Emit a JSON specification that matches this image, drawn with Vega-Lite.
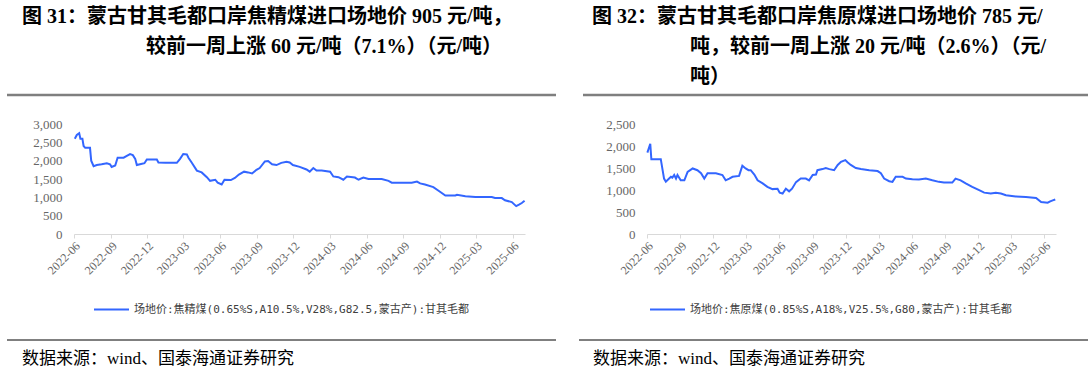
{
  "$schema": "https://vega.github.io/schema/vega-lite/v6.json",
  "padding": {"left": 5, "top": 7, "right": 0, "bottom": 0},
  "background": "white",
  "spacing": 21,
  "resolve": {"scale": {"x": "independent", "y": "independent", "color": "independent"}, "legend": {"color": "independent"}},
  "config": {
    "view": {"stroke": null},
    "axis": {"grid": false, "title": null},
    "axisX": {"labelFont": "Liberation Serif", "labelFontSize": 12, "labelColor": "#666666", "labelAngle": -45, "labelFlush": false, "labelOverlap": false, "labelBound": false, "domainColor": "#d9d9d9", "tickColor": "#d9d9d9", "tickSize": 4, "labelPadding": 2, "format": "%Y-%m"},
    "axisY": {"labelFont": "Liberation Serif", "labelFontSize": 13, "labelColor": "#666666", "domain": false, "ticks": false, "labelPadding": 12, "offset": -67},
    "title": {"font": "Liberation Serif, Noto Sans CJK SC", "fontSize": 20, "fontWeight": "bold", "color": "#000000", "anchor": "start", "align": "left", "lineHeight": 30, "frame": "group", "offset": 4},
    "legend": {"orient": "bottom", "title": null, "symbolType": "stroke", "symbolSize": 1225, "symbolStrokeWidth": 2, "labelFont": "DejaVu Sans Mono, Noto Sans CJK SC", "labelFontSize": 11, "labelColor": "#404040", "labelLimit": 0, "offset": 14, "labelOffset": 4, "layout": {"bottom": {"anchor": "middle"}}}
  },
  "datasets": {
    "left": [
      {"date": "2022-06-03", "value": 2600}, {"date": "2022-06-08", "value": 2700}, {"date": "2022-06-14", "value": 2750},
      {"date": "2022-06-17", "value": 2600}, {"date": "2022-06-22", "value": 2600}, {"date": "2022-06-25", "value": 2400},
      {"date": "2022-06-29", "value": 2350}, {"date": "2022-07-11", "value": 2350}, {"date": "2022-07-14", "value": 2000},
      {"date": "2022-07-20", "value": 1850}, {"date": "2022-07-28", "value": 1880}, {"date": "2022-08-09", "value": 1900},
      {"date": "2022-08-22", "value": 1930}, {"date": "2022-08-30", "value": 1900}, {"date": "2022-09-03", "value": 1830},
      {"date": "2022-09-12", "value": 1870}, {"date": "2022-09-18", "value": 2080}, {"date": "2022-10-03", "value": 2080},
      {"date": "2022-10-11", "value": 2130}, {"date": "2022-10-19", "value": 2180}, {"date": "2022-10-26", "value": 2150},
      {"date": "2022-11-01", "value": 2050}, {"date": "2022-11-05", "value": 1880}, {"date": "2022-11-13", "value": 1900},
      {"date": "2022-11-24", "value": 1930}, {"date": "2022-11-30", "value": 2030}, {"date": "2022-12-25", "value": 2030},
      {"date": "2022-12-29", "value": 1950}, {"date": "2023-01-15", "value": 1940}, {"date": "2023-02-13", "value": 1940},
      {"date": "2023-02-21", "value": 2050}, {"date": "2023-03-01", "value": 2180}, {"date": "2023-03-10", "value": 2170},
      {"date": "2023-03-14", "value": 2080}, {"date": "2023-03-22", "value": 1950}, {"date": "2023-04-04", "value": 1730},
      {"date": "2023-04-16", "value": 1680}, {"date": "2023-04-29", "value": 1550}, {"date": "2023-05-07", "value": 1450},
      {"date": "2023-05-20", "value": 1480}, {"date": "2023-05-26", "value": 1400}, {"date": "2023-06-05", "value": 1350},
      {"date": "2023-06-12", "value": 1480}, {"date": "2023-06-28", "value": 1470}, {"date": "2023-07-08", "value": 1530},
      {"date": "2023-07-18", "value": 1620}, {"date": "2023-07-31", "value": 1700}, {"date": "2023-08-10", "value": 1680},
      {"date": "2023-08-20", "value": 1650}, {"date": "2023-08-31", "value": 1750}, {"date": "2023-09-08", "value": 1800},
      {"date": "2023-09-21", "value": 1980}, {"date": "2023-09-29", "value": 1990}, {"date": "2023-10-09", "value": 1900},
      {"date": "2023-10-20", "value": 1880}, {"date": "2023-11-01", "value": 1940}, {"date": "2023-11-14", "value": 1970},
      {"date": "2023-11-22", "value": 1950}, {"date": "2023-11-30", "value": 1880}, {"date": "2023-12-17", "value": 1830},
      {"date": "2024-01-03", "value": 1760}, {"date": "2024-01-11", "value": 1700}, {"date": "2024-01-20", "value": 1800},
      {"date": "2024-01-28", "value": 1730}, {"date": "2024-02-10", "value": 1730}, {"date": "2024-03-02", "value": 1700},
      {"date": "2024-03-10", "value": 1570}, {"date": "2024-03-23", "value": 1550}, {"date": "2024-04-04", "value": 1480},
      {"date": "2024-04-13", "value": 1570}, {"date": "2024-05-03", "value": 1540}, {"date": "2024-05-12", "value": 1480},
      {"date": "2024-05-24", "value": 1540}, {"date": "2024-06-06", "value": 1500}, {"date": "2024-07-09", "value": 1500},
      {"date": "2024-07-26", "value": 1450}, {"date": "2024-08-03", "value": 1400}, {"date": "2024-09-22", "value": 1400},
      {"date": "2024-10-05", "value": 1430}, {"date": "2024-10-13", "value": 1380}, {"date": "2024-10-25", "value": 1350},
      {"date": "2024-11-15", "value": 1280}, {"date": "2024-11-28", "value": 1180}, {"date": "2024-12-15", "value": 1050},
      {"date": "2025-01-09", "value": 1050}, {"date": "2025-01-13", "value": 1070}, {"date": "2025-02-03", "value": 1030},
      {"date": "2025-02-28", "value": 1010}, {"date": "2025-04-10", "value": 1010}, {"date": "2025-04-18", "value": 980},
      {"date": "2025-05-05", "value": 980}, {"date": "2025-05-13", "value": 920}, {"date": "2025-05-30", "value": 870},
      {"date": "2025-06-10", "value": 760}, {"date": "2025-06-17", "value": 800}, {"date": "2025-06-24", "value": 845},
      {"date": "2025-07-01", "value": 905}
    ],
    "right": [
      {"date": "2022-06-02", "value": 1850}, {"date": "2022-06-06", "value": 1950}, {"date": "2022-06-10", "value": 2050},
      {"date": "2022-06-13", "value": 1700}, {"date": "2022-07-09", "value": 1700}, {"date": "2022-07-18", "value": 1260},
      {"date": "2022-07-23", "value": 1190}, {"date": "2022-08-01", "value": 1260}, {"date": "2022-08-06", "value": 1300},
      {"date": "2022-08-10", "value": 1280}, {"date": "2022-08-15", "value": 1340}, {"date": "2022-08-20", "value": 1260},
      {"date": "2022-08-24", "value": 1340}, {"date": "2022-09-02", "value": 1220}, {"date": "2022-09-12", "value": 1220},
      {"date": "2022-09-21", "value": 1410}, {"date": "2022-10-05", "value": 1490}, {"date": "2022-10-18", "value": 1450},
      {"date": "2022-10-28", "value": 1380}, {"date": "2022-11-06", "value": 1260}, {"date": "2022-11-15", "value": 1380},
      {"date": "2022-12-08", "value": 1380}, {"date": "2022-12-26", "value": 1340}, {"date": "2023-01-04", "value": 1220},
      {"date": "2023-01-14", "value": 1260}, {"date": "2023-01-23", "value": 1300}, {"date": "2023-02-10", "value": 1320},
      {"date": "2023-02-19", "value": 1550}, {"date": "2023-02-28", "value": 1490}, {"date": "2023-03-08", "value": 1450},
      {"date": "2023-03-14", "value": 1450}, {"date": "2023-03-24", "value": 1350}, {"date": "2023-04-02", "value": 1220},
      {"date": "2023-04-16", "value": 1150}, {"date": "2023-04-29", "value": 1070}, {"date": "2023-05-13", "value": 1020},
      {"date": "2023-05-27", "value": 1030}, {"date": "2023-06-02", "value": 940}, {"date": "2023-06-10", "value": 920},
      {"date": "2023-06-19", "value": 1030}, {"date": "2023-06-28", "value": 970}, {"date": "2023-07-06", "value": 1030},
      {"date": "2023-07-17", "value": 1180}, {"date": "2023-07-30", "value": 1260}, {"date": "2023-08-13", "value": 1260},
      {"date": "2023-08-22", "value": 1220}, {"date": "2023-09-01", "value": 1340}, {"date": "2023-09-10", "value": 1350},
      {"date": "2023-09-14", "value": 1450}, {"date": "2023-09-28", "value": 1475}, {"date": "2023-10-07", "value": 1500},
      {"date": "2023-10-17", "value": 1475}, {"date": "2023-10-30", "value": 1450}, {"date": "2023-11-09", "value": 1570},
      {"date": "2023-11-18", "value": 1640}, {"date": "2023-11-30", "value": 1680}, {"date": "2023-12-06", "value": 1630},
      {"date": "2023-12-15", "value": 1570}, {"date": "2023-12-29", "value": 1500}, {"date": "2024-01-12", "value": 1475},
      {"date": "2024-02-04", "value": 1450}, {"date": "2024-02-27", "value": 1430}, {"date": "2024-03-07", "value": 1380},
      {"date": "2024-03-16", "value": 1260}, {"date": "2024-03-30", "value": 1200}, {"date": "2024-04-08", "value": 1185},
      {"date": "2024-04-17", "value": 1300}, {"date": "2024-05-06", "value": 1300}, {"date": "2024-05-15", "value": 1260},
      {"date": "2024-06-02", "value": 1245}, {"date": "2024-06-20", "value": 1240}, {"date": "2024-07-09", "value": 1260},
      {"date": "2024-07-27", "value": 1220}, {"date": "2024-08-14", "value": 1185}, {"date": "2024-08-28", "value": 1170},
      {"date": "2024-09-20", "value": 1170}, {"date": "2024-09-29", "value": 1260}, {"date": "2024-10-13", "value": 1220},
      {"date": "2024-10-27", "value": 1150}, {"date": "2024-11-14", "value": 1070}, {"date": "2024-12-03", "value": 995},
      {"date": "2024-12-17", "value": 940}, {"date": "2025-01-04", "value": 920}, {"date": "2025-01-18", "value": 940},
      {"date": "2025-02-01", "value": 920}, {"date": "2025-02-15", "value": 880}, {"date": "2025-03-14", "value": 855},
      {"date": "2025-04-11", "value": 840}, {"date": "2025-05-09", "value": 820}, {"date": "2025-05-23", "value": 725},
      {"date": "2025-06-10", "value": 710}, {"date": "2025-06-17", "value": 740}, {"date": "2025-06-24", "value": 765},
      {"date": "2025-07-01", "value": 785}
    ]
  },
  "vconcat": [
    {
      "spacing": 23,
      "resolve": {"scale": {"x": "independent", "y": "independent"}},
      "hconcat": [
        {
          "title": {"text": ["图 31：蒙古甘其毛都口岸焦精煤进口场地价 905 元/吨，", "\u200b\u3000\u3000\u3000\u3000\u3000\u3000\u2009较前一周上涨 60 元/吨（7.1%）（元/吨）"], "dx": 15, "offset": 34},
          "width": 549, "height": 4,
          "data": {"values": [{"v": 0}]},
          "mark": {"type": "rule", "color": "#7f7f7f", "strokeWidth": 2.5},
          "encoding": {"y": {"field": "v", "type": "quantitative", "scale": {"domain": [0, 1]}, "axis": null}}
        },
        {
          "title": {"text": ["图 32：蒙古甘其毛都口岸焦原煤进口场地价 785 元/", "\u200b\u3000\u3000\u3000\u3000\u2002\u2009\u2009吨，较前一周上涨 20 元/吨（2.6%）（元/", "\u200b\u3000\u3000\u3000\u3000\u2002\u2009\u2009吨）"], "dx": 9},
          "width": 506, "height": 4,
          "data": {"values": [{"v": 0}]},
          "mark": {"type": "rule", "color": "#7f7f7f", "strokeWidth": 2.5},
          "encoding": {"y": {"field": "v", "type": "quantitative", "scale": {"domain": [0, 1]}, "axis": null}}
        }
      ]
    },
    {
      "spacing": 24,
      "resolve": {"scale": {"x": "independent", "y": "independent", "color": "independent"}, "legend": {"color": "independent"}},
      "vconcat": [
        {
          "spacing": 51,
          "resolve": {"scale": {"x": "independent", "y": "independent", "color": "independent"}, "legend": {"color": "independent"}},
          "hconcat": [
            {
              "width": 518, "height": 110,
              "data": {"name": "left"},
              "mark": {"type": "line", "strokeWidth": 2},
              "encoding": {
                "x": {"field": "date", "type": "temporal",
                  "scale": {"type": "utc", "range": [67, 518], "domain": [{"year": 2022, "month": 6, "date": 1, "utc": true}, {"year": 2025, "month": 7, "date": 2, "utc": true}]},
                  "axis": {"values": [
                    {"year": 2022, "month": 6, "date": 1, "utc": true}, {"year": 2022, "month": 9, "date": 1, "utc": true}, {"year": 2022, "month": 12, "date": 1, "utc": true},
                    {"year": 2023, "month": 3, "date": 1, "utc": true}, {"year": 2023, "month": 6, "date": 1, "utc": true}, {"year": 2023, "month": 9, "date": 1, "utc": true}, {"year": 2023, "month": 12, "date": 1, "utc": true},
                    {"year": 2024, "month": 3, "date": 1, "utc": true}, {"year": 2024, "month": 6, "date": 1, "utc": true}, {"year": 2024, "month": 9, "date": 1, "utc": true}, {"year": 2024, "month": 12, "date": 1, "utc": true},
                    {"year": 2025, "month": 3, "date": 1, "utc": true}, {"year": 2025, "month": 6, "date": 1, "utc": true}]}},
                "y": {"field": "value", "type": "quantitative", "scale": {"domain": [0, 3000]}, "axis": {"values": [0, 500, 1000, 1500, 2000, 2500, 3000], "format": ",d"}},
                "color": {"datum": "场地价:焦精煤(0.65%S,A10.5%,V28%,G82.5,蒙古产):甘其毛都", "type": "nominal", "scale": {"range": ["#3366ff"]}, "legend": {"symbolOffset": 30}}
              }
            },
            {
              "width": 476, "height": 110,
              "data": {"name": "right"},
              "mark": {"type": "line", "strokeWidth": 2},
              "encoding": {
                "x": {"field": "date", "type": "temporal",
                  "scale": {"type": "utc", "range": [67, 476], "domain": [{"year": 2022, "month": 6, "date": 1, "utc": true}, {"year": 2025, "month": 7, "date": 3, "utc": true}]},
                  "axis": {"values": [
                    {"year": 2022, "month": 6, "date": 1, "utc": true}, {"year": 2022, "month": 9, "date": 1, "utc": true}, {"year": 2022, "month": 12, "date": 1, "utc": true},
                    {"year": 2023, "month": 3, "date": 1, "utc": true}, {"year": 2023, "month": 6, "date": 1, "utc": true}, {"year": 2023, "month": 9, "date": 1, "utc": true}, {"year": 2023, "month": 12, "date": 1, "utc": true},
                    {"year": 2024, "month": 3, "date": 1, "utc": true}, {"year": 2024, "month": 6, "date": 1, "utc": true}, {"year": 2024, "month": 9, "date": 1, "utc": true}, {"year": 2024, "month": 12, "date": 1, "utc": true},
                    {"year": 2025, "month": 3, "date": 1, "utc": true}, {"year": 2025, "month": 6, "date": 1, "utc": true}]}},
                "y": {"field": "value", "type": "quantitative", "scale": {"domain": [0, 2500]}, "axis": {"values": [0, 500, 1000, 1500, 2000, 2500], "format": ",d"}},
                "color": {"datum": "场地价:焦原煤(0.85%S,A18%,V25.5%,G80,蒙古产):甘其毛都", "type": "nominal", "scale": {"range": ["#3366ff"]}, "legend": {"symbolOffset": 24}}
              }
            }
          ]
        },
        {
          "spacing": 21,
          "hconcat": [
            {
              "width": 549, "height": 38,
              "layer": [
                {"data": {"values": [{"v": 1}]}, "mark": {"type": "rule", "color": "#000000", "strokeWidth": 1},
                 "encoding": {"y": {"field": "v", "type": "quantitative", "scale": {"domain": [0, 1]}, "axis": null}}},
                {"data": {"values": [{"v": 0.5, "h": 0, "t": "数据来源：wind、国泰海通证券研究"}]},
                 "mark": {"type": "text", "align": "left", "baseline": "middle", "dx": 15, "font": "Liberation Serif, Noto Sans CJK SC", "fontSize": 17, "color": "#000000"},
                 "encoding": {"x": {"field": "h", "type": "quantitative", "scale": {"domain": [0, 1]}, "axis": null},
                              "y": {"field": "v", "type": "quantitative", "scale": {"domain": [0, 1]}, "axis": null},
                              "text": {"field": "t"}}}
              ]
            },
            {
              "width": 513, "height": 38,
              "layer": [
                {"data": {"values": [{"v": 1}]}, "mark": {"type": "rule", "color": "#000000", "strokeWidth": 1},
                 "encoding": {"y": {"field": "v", "type": "quantitative", "scale": {"domain": [0, 1]}, "axis": null}}},
                {"data": {"values": [{"v": 0.5, "h": 0, "t": "数据来源：wind、国泰海通证券研究"}]},
                 "mark": {"type": "text", "align": "left", "baseline": "middle", "dx": 14, "font": "Liberation Serif, Noto Sans CJK SC", "fontSize": 17, "color": "#000000"},
                 "encoding": {"x": {"field": "h", "type": "quantitative", "scale": {"domain": [0, 1]}, "axis": null},
                              "y": {"field": "v", "type": "quantitative", "scale": {"domain": [0, 1]}, "axis": null},
                              "text": {"field": "t"}}}
              ]
            }
          ]
        }
      ]
    }
  ]
}
